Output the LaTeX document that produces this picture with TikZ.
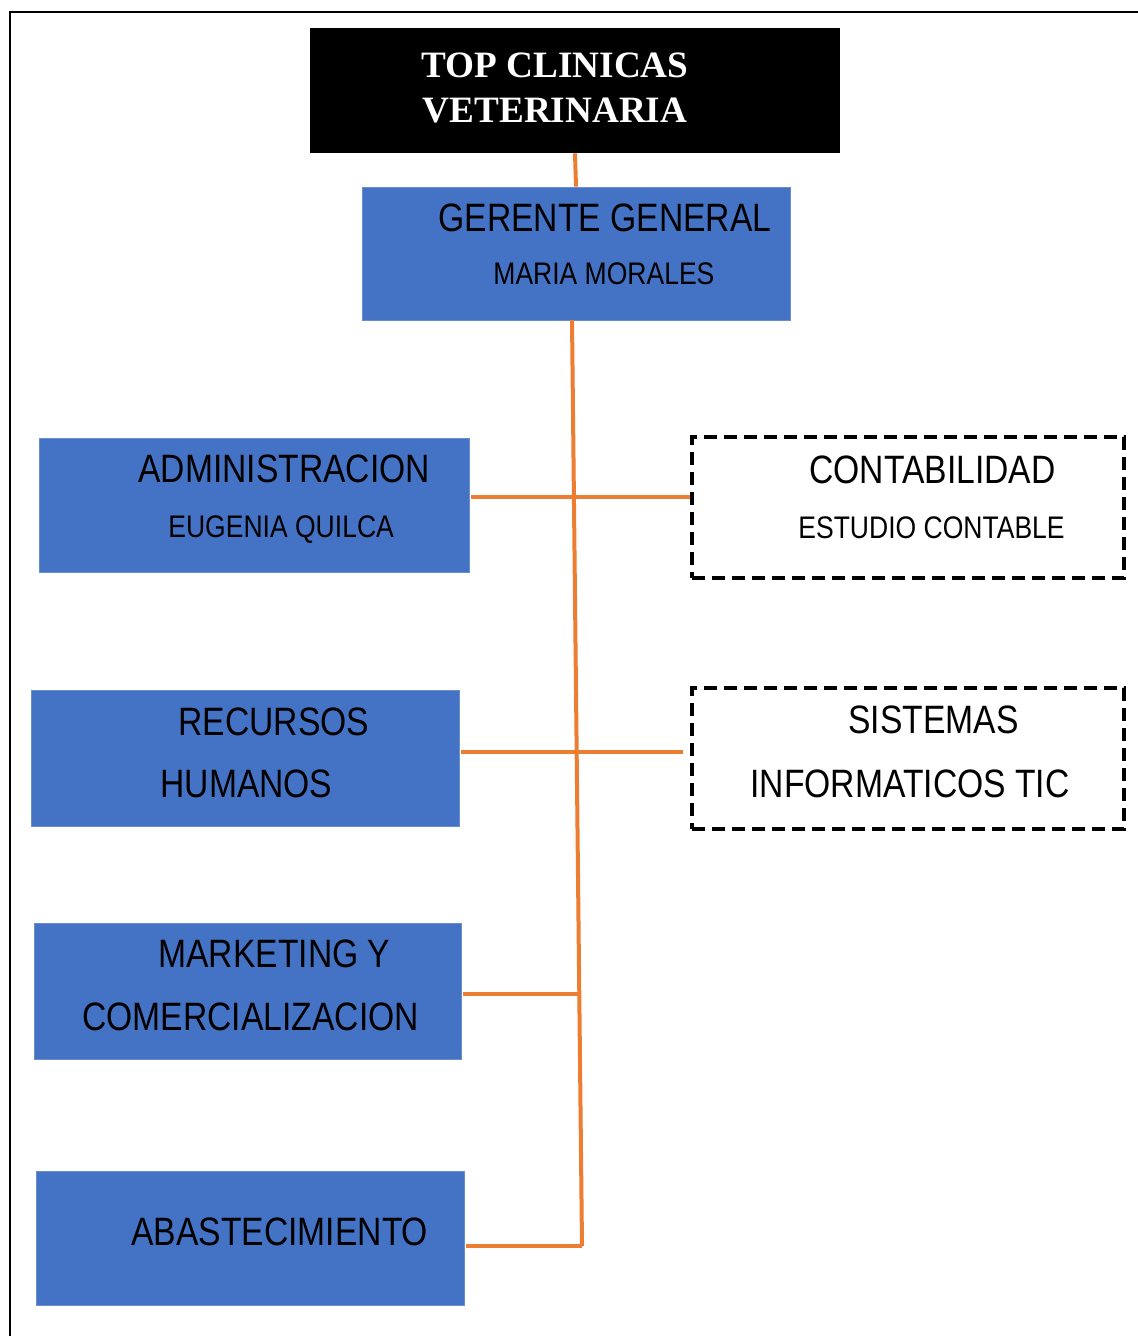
\documentclass[tikz,border=0pt]{standalone}
\usepackage{fontspec}
\newfontfamily\boxfont[FakeStretch=0.85]{Liberation Sans}
\newfontfamily\titlefont{Liberation Serif}
\definecolor{boxblue}{HTML}{4472C4}
\definecolor{lineorange}{HTML}{ED7D31}

\begin{document}
\begin{tikzpicture}
	  [x=0.5pt,y=-0.5pt,
	   bluebox/.style={rectangle,fill=boxblue,draw=boxblue!80!white,line width=0.4pt,inner sep=0pt},
	   dashbox/.style={rectangle,draw=black,line width=1.7pt,dash pattern=on 6.5pt off 3.5pt,inner sep=0pt},
	   big/.style={anchor=base west,inner sep=0pt,font=\boxfont\fontsize{19.8}{24}\selectfont},
	   small/.style={anchor=base west,inner sep=0pt,font=\boxfont\fontsize{15.6}{19}\selectfont},
	   link/.style={draw=lineorange,line width=2pt}]
	\useasboundingbox (0,0) rectangle (1137,1336);
	\draw[line width=1.2pt] (10,12) rectangle (1150,1350);

	\node[fill=black,minimum width=265pt,minimum height=62.5pt] (top) at (575,90.5) {};
	\node[anchor=base,text=white,font=\titlefont\bfseries\fontsize{18.6}{22}\selectfont] (top1) at (555,78) {TOP CLINICAS};
	\node[anchor=base,text=white,font=\titlefont\bfseries\fontsize{18.6}{22}\selectfont] (top2) at (555,123) {VETERINARIA};

	\node[bluebox,minimum width=214pt,minimum height=66.5pt] (gg)   at (576,253.5) {};
	\node[bluebox,minimum width=215pt,minimum height=67pt]   (adm)  at (254,505)   {};
	\node[dashbox,minimum width=216pt,minimum height=70.5pt] (cont) at (908,507.5) {};
	\node[bluebox,minimum width=214pt,minimum height=68pt]   (rrhh) at (245,758)   {};
	\node[dashbox,minimum width=216pt,minimum height=70.5pt] (sist) at (908,758.5) {};
	\node[bluebox,minimum width=213.5pt,minimum height=68pt] (mkt)  at (247.5,991) {};
	\node[bluebox,minimum width=214pt,minimum height=67pt]   (abas) at (250,1238)  {};

	\node[big]   (gg1)   at (438,232)  {GERENTE GENERAL};
	\node[small] (gg2)   at (493,285)  {MARIA MORALES};
	\node[big]   (adm1)  at (138,482)  {ADMINISTRACION};
	\node[small] (adm2)  at (168,537)  {EUGENIA QUILCA};
	\node[big]   (cont1) at (809,483)  {CONTABILIDAD};
	\node[small] (cont2) at (798,538)  {ESTUDIO CONTABLE};
	\node[big]   (rrhh1) at (178,735)  {RECURSOS};
	\node[big]   (rrhh2) at (160,797)  {HUMANOS};
	\node[big]   (sist1) at (848,733)  {SISTEMAS};
	\node[big]   (sist2) at (750,797)  {INFORMATICOS TIC};
	\node[big]   (mkt1)  at (158,967)  {MARKETING Y};
	\node[big]   (mkt2)  at (82,1030)  {COMERCIALIZACION};
	\node[big]   (abas1) at (131,1245) {ABASTECIMIENTO};

	\coordinate (t0) at (572,320);
	\coordinate (b1) at (573.9,497);
	\coordinate (b2) at (576.7,752);
	\coordinate (b3) at (579.3,994);
	\coordinate (b4) at (582,1246);

	\draw[link] (top.south) -- (gg.north);
	\draw[link] (t0) -- (b4);
	\foreach \from/\to in {adm/b1,rrhh/b2,mkt/b3,abas/b4}
	  \draw[link] ([xshift=1pt]\from.east |- \to) -- (\to);
	\draw[link] (b1) -- (cont.west |- b1);
	\draw[link,shorten >=3.5pt] (b2) -- (sist.west |- b2);
	\end{tikzpicture}
\end{document}
